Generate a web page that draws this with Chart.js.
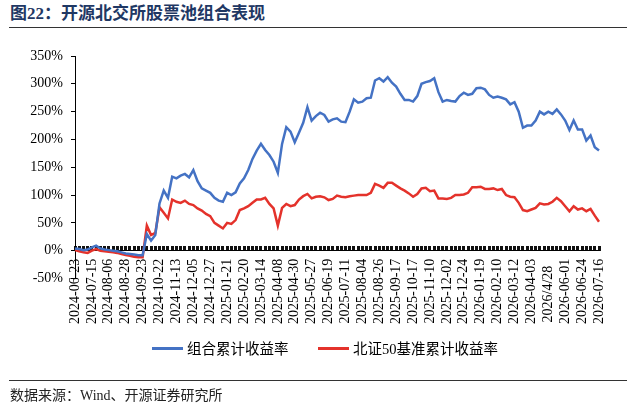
<!DOCTYPE html>
<html>
<head>
<meta charset="utf-8">
<script src="https://cdn.jsdelivr.net/npm/chart.js@4.4.1/dist/chart.umd.min.js"></script>
<style>
body{margin:0;background:#fff;}
#wrap{position:relative;width:640px;height:408px;overflow:hidden;font-family:"Liberation Serif","Noto Sans CJK SC",serif;color:#000;}
#title{position:absolute;left:10px;top:4px;font-size:17px;font-weight:bold;color:#1f3864;white-space:nowrap;line-height:20px;}
.rule{position:absolute;left:9px;width:618px;height:0;border-top:1.5px solid #333;}
#spread{position:absolute;left:0;top:0;}
.lg-line{position:absolute;width:31px;height:3px;top:347px;}
.lg-text{position:absolute;top:339px;font-size:14.5px;line-height:20px;white-space:nowrap;}
#source{position:absolute;left:10px;top:387px;font-size:14px;line-height:18px;color:#222;white-space:nowrap;}
</style>
</head>
<body>
<div id="wrap">
  <div id="title">图22：开源北交所股票池组合表现</div>
  <div class="rule" style="top:27px"></div>
  <canvas id="spread" width="640" height="408"></canvas>
  <div class="lg-line" style="left:152px;background:#4472C4"></div>
  <div class="lg-text" style="left:187px">组合累计收益率</div>
  <div class="lg-line" style="left:318px;background:#E4322B"></div>
  <div class="lg-text" style="left:353px">北证50基准累计收益率</div>
  <div class="rule" style="top:380px"></div>
  <div id="source">数据来源：Wind、开源证券研究所</div>
</div>
<script>
var tickLabels = ['2024-06-23','2024-07-15','2024-08-06','2024-08-28','2024-09-23','2024-10-22','2024-11-13','2024-12-05',
  '2024-12-27','2025-01-21','2025-02-20','2025-03-14','2025-04-08','2025-04-30','2025-05-27','2025-06-19',
  '2025-07-11','2025-08-04','2025-08-26','2025-09-17','2025-10-17','2025-11-10','2025-12-02','2025-12-24',
  '2026-01-19','2026-02-10','2026-03-12','2026-04-03','2026/4/28','2026-06-01','2026-06-24','2026-07-16'];

// 组合累计收益率 (%)
var portfolio = [4,3,1,2,6,9,4,2,1,0,-1,-3,-5,-6,-7,-8,-8,
  30,18,28,85,108,95,133,130,
  135,138,132,145,125,112,108,104,
  95,90,88,104,100,105,121,130,
  145,165,180,192,181,172,160,140,
  192,222,214,195,212,230,258,234,
  242,248,244,232,236,238,232,231,
  250,272,266,268,274,275,306,310,
  304,312,302,295,282,271,271,268,
  278,300,303,305,310,285,268,271,
  269,268,278,284,280,282,292,293,
  290,280,275,277,275,272,263,267,
  250,221,225,225,234,250,245,250,
  246,254,245,234,217,234,218,218,
  198,207,186,180];

// 北证50基准累计收益率 (%)
var benchmark = [1,-1,-3,-4,0,3,0,-1,-2,-3,-4,-6,-8,-9,-11,-12,-12,
  45,28,32,78,68,58,92,88,
  86,90,84,82,76,72,66,62,
  50,45,40,50,48,55,73,76,
  80,86,92,92,95,84,76,45,
  77,84,80,82,92,98,102,94,
  97,98,96,91,93,99,97,96,
  98,99,100,100,100,104,120,117,
  113,122,122,117,112,108,103,97,
  102,112,113,107,108,94,94,93,
  95,100,100,101,104,114,114,115,
  111,111,112,109,111,100,97,96,
  86,73,71,74,77,85,83,84,
  88,95,89,80,71,80,74,76,
  71,75,63,52];

var labels = portfolio.map(function(v, i){ return i % 4 === 0 ? tickLabels[i / 4] : ''; });

var serif = '"Liberation Serif", "Times New Roman", serif';

var spreadCanvas = document.getElementById('spread');
var lineChart = new Chart(spreadCanvas, {
  type: 'line',
  data: {
    labels: labels,
    datasets: [{
      label: '组合累计收益率',
      data: portfolio,
      borderColor: '#4472C4',
      borderWidth: 2.5,
      pointRadius: 0,
      tension: 0
    },
    {
      label: '北证50基准累计收益率',
      data: benchmark,
      borderColor: '#E4322B',
      borderWidth: 2.5,
      pointRadius: 0,
      tension: 0
    }]
  },
  options: {
    responsive: false,
    animation: false,
    layout: { padding: { top: 56, right: 41, bottom: 129.5, left: 0 } },
    plugins: { legend: { display: false }, tooltip: { enabled: false } },
    scales: {
      x: {
        type: 'category',
        position: { y: 0 },
        offset: false,
        grid: { drawOnChartArea: false, drawTicks: true, tickLength: -5, tickColor: '#111', tickWidth: 3 },
        border: { display: true, color: '#000', width: 1 },
        ticks: {
          autoSkip: false,
          minRotation: 90,
          maxRotation: 90,
          padding: 13,
          color: '#000',
          font: { family: serif, size: 14 },
          callback: function(v) {
            var s = this.getLabelForValue(v);
            // short label sits lower, like the original
            if (s && s.length < 10) s = s + '\u00A0\u00A0';
            return s;
          }
        }
      },
      y: {
        min: -50,
        max: 350,
        ticks: {
          stepSize: 50,
          padding: 8,
          color: '#000',
          font: { family: serif, size: 14 },
          callback: function(v) { return v + '%'; }
        },
        grid: { drawOnChartArea: false, tickLength: 4, tickColor: '#000' },
        border: { color: '#000', width: 1 },
        afterFit: function(s) { s.width = 75; }
      }
    }
  }
});
</script>
</body>
</html>
